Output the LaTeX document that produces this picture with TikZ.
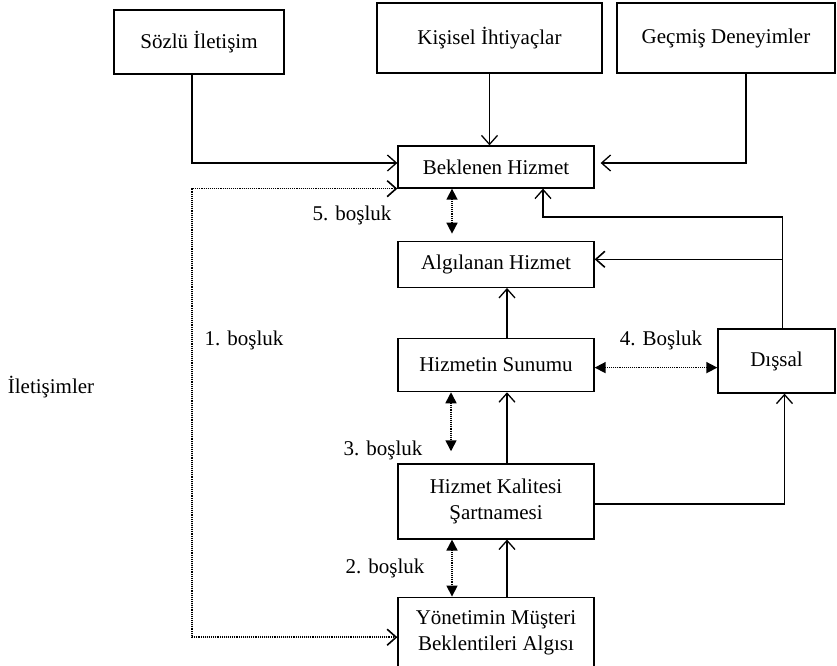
\documentclass[tikz,border=0pt]{standalone}
\usepackage{fontspec}
\setmainfont{Liberation Serif}
\usetikzlibrary{arrows.meta,positioning}

\begin{document}
\begin{tikzpicture}[x=1pt,y=-1pt,line width=1.3pt,
  >={Straight Barb[length=9pt,width=16pt]},
  every node/.style={font=\fontsize{21}{26}\selectfont},
  box/.style={draw,inner sep=0pt,align=center,minimum width=196pt},
  dots/.style={line width=1.6pt,dash pattern=on 1pt off 0.9pt},
  gap/.style={dots,{Triangle[length=11pt,width=11pt]}-{Triangle[length=11pt,width=11pt]}}]
\useasboundingbox (0,0) rectangle (837,665);
% inputs
\node[box,minimum width=170pt,minimum height=64pt] (sozlu) at (199,42) {Sözlü İletişim};
\node[box,minimum width=225pt,minimum height=70pt] (kisisel) at (489.5,38) {Kişisel İhtiyaçlar};
\node[box,minimum width=218pt,minimum height=70pt] (gecmis) at (726,38) {Geçmiş Deneyimler};
% main column
\node[box,minimum height=42pt] (beklenen) at (496,167) {Beklenen Hizmet};
\node[box,minimum height=46pt,below=52pt of beklenen] (algilanan) {Algılanan Hizmet};
\node[box,minimum height=53pt,below=50pt of algilanan] (sunum) {Hizmetin Sunumu};
\node[box,minimum height=75pt,below=71pt of sunum] (kalite) {Hizmet Kalitesi\\ Şartnamesi};
\node[box,minimum height=71pt,below=57pt of kalite] (yonetim) {Yönetimin Müşteri\\ Beklentileri Algısı};
\node[box,minimum width=117pt,minimum height=64pt] (dissal) at (776.5,361) {Dışsal};
% labels
\node (bos5) at (352,215) {5. boşluk};
\node (bos1) at (244,340) {1. boşluk};
\node (bos4) at (661,340) {4. Boşluk};
\node (iletisimler) at (51,387) {İletişimler};
\node (bos3) at (383,450) {3. boşluk};
\node (bos2) at (385,568) {2. boşluk};
\coordinate (gap1) at (192,400);
\coordinate (bend) at (543,217);
% solid links
\draw[->] ([xshift=-7pt]sozlu.south) |- ([yshift=4pt]beklenen.west);
\draw[->] (kisisel.south) -- (kisisel.south |- beklenen.north);
\draw[->,shorten >=6pt] ([xshift=20pt]gecmis.south) |- ([yshift=4pt]beklenen.east);
\draw[->] ([xshift=6pt]dissal.north) |- (bend) -- (bend |- beklenen.south);
\draw[->,line width=1.6pt] ([xshift=6pt]dissal.north) |- ([yshift=5pt]algilanan.east);
\draw[->] ([xshift=11pt]sunum.north) -- ([xshift=11pt]algilanan.south);
\draw[->] ([xshift=11pt]kalite.north) -- ([xshift=11pt]sunum.south);
\draw[->] ([xshift=11pt]yonetim.north) -- ([xshift=11pt]kalite.south);
\draw[->] ([yshift=-2.5pt]kalite.east) -| ([xshift=8pt]dissal.south);
% gaps
\draw[<->,dots] (beklenen.south west) -| (gap1) |- ([yshift=-4.5pt]yonetim.west);
\draw[gap,shorten >=7pt] ([xshift=-44pt]beklenen.south) -- ([xshift=-44pt]algilanan.north);
\draw[gap,shorten >=12pt] ([xshift=-45pt]sunum.south) -- ([xshift=-45pt]kalite.north);
\draw[gap] ([xshift=-44pt]kalite.south) -- ([xshift=-44pt]yonetim.north);
\draw[gap] ([yshift=-2.5pt]sunum.east) -- ([yshift=-2.5pt]sunum.east -| dissal.west);
\end{tikzpicture}
\end{document}
